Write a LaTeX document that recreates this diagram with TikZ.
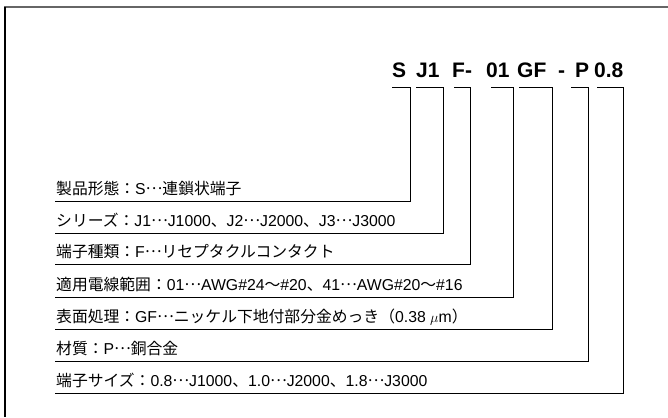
\documentclass[tikz,border=0pt]{standalone}
\usepackage{fontspec}
\setmainfont{Liberation Sans}
\newfontfamily\jp{Noto Sans CJK JP}
\newcommand{\J}[1]{{\jp #1}}
\newcommand{\dd}{{\jp\raisebox{0.3em}{…}}}
\begin{document}
\begin{tikzpicture}[x=1pt,y=-1pt,
  lbl/.style={anchor=base west, inner sep=0pt, font=\fontsize{15.8}{18}\selectfont},
  code/.style={anchor=base west, inner sep=0pt, font=\bfseries\fontsize{21}{24}\selectfont},
  conn/.style={draw=black, line width=0.9pt}]
\useasboundingbox (0,0) rectangle (668,417);
\draw[black!60, line width=2pt] (4.4,7) -- (668,7);
\draw[black, line width=1.2pt] (5,7) -- (5,417);

% product code
\node[code] (c1) at (392,78) {S};
\node[code] (c2) at (416,78) {J1};
\node[code] (c3) at (452,78) {F-};
\node[code] (c4) at (486,78) {01};
\node[code] (c5) at (517,78) {GF};
\node[code] (c6) at (558,78) {-};
\node[code] (c7) at (575,78) {P};
\node[code] (c8) at (594,78) {0.8};

% labels
\node[lbl] (l1) at (56,194) {\J{製品形態：}S\dd\J{連鎖状端子}};
\node[lbl] (l2) at (56,226) {\J{シリーズ：}J1\dd J1000\J{、}J2\dd J2000\J{、}J3\dd J3000};
\node[lbl] (l3) at (56,257) {\J{端子種類：}F\dd\J{リセプタクルコンタクト}};
\node[lbl] (l4) at (56,290) {\J{適用電線範囲：}01\dd AWG\#24\J{～}\#20\J{、}41\dd AWG\#20\J{～}\#16};
\node[lbl] (l5) at (56,322) {\J{表面処理：}GF\dd\J{ニッケル下地付部分金めっき（}0.38 $\mu$m\J{）}};
\node[lbl] (l6) at (56,354) {\J{材質：}P\dd\J{銅合金}};
\node[lbl] (l7) at (56,386) {\J{端子サイズ：}0.8\dd J1000\J{、}1.0\dd J2000\J{、}1.8\dd J3000};

% connector coordinates
\coordinate (u1) at (55,201); \coordinate (t1) at (410.5,87); \coordinate (h1) at (392,87);
\coordinate (u2) at (55,233); \coordinate (t2) at (443,87);   \coordinate (h2) at (416,87);
\coordinate (u3) at (55,264); \coordinate (t3) at (470.5,87); \coordinate (h3) at (454,87);
\coordinate (u4) at (55,297); \coordinate (t4) at (513,87);   \coordinate (h4) at (491,87);
\coordinate (u5) at (55,329); \coordinate (t5) at (552,87);   \coordinate (h5) at (519,87);
\coordinate (u6) at (55,361); \coordinate (t6) at (588.5,87); \coordinate (h6) at (571,87);
\coordinate (u7) at (55,393); \coordinate (t7) at (623,87);   \coordinate (h7) at (597,87);

\foreach \i in {1,...,7}{
  \draw[conn] (u\i) -- (u\i -| t\i) -- (t\i) -- (h\i);
}
\end{tikzpicture}
\end{document}
